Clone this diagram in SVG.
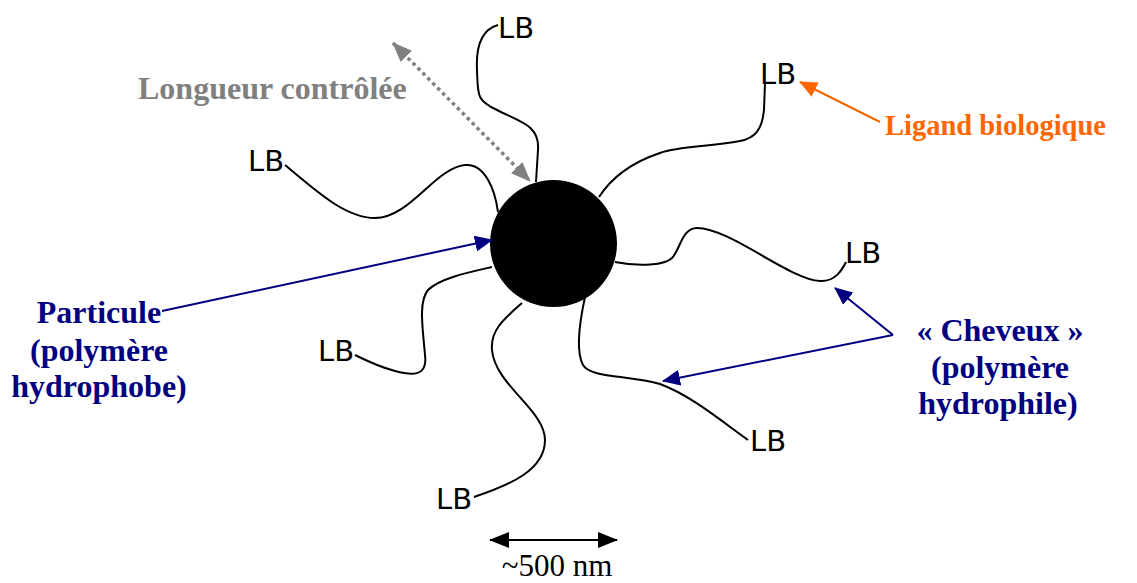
<svg xmlns="http://www.w3.org/2000/svg" width="1137" height="583" viewBox="0 0 1137 583">
<style>
.hair{fill:none;stroke:#000;stroke-width:2}
.lb{font-family:"Comic Sans MS","DejaVu Sans",sans-serif;font-size:29px;fill:#000}
.lbl{font-family:"Liberation Serif","Times New Roman",serif;font-weight:bold;font-size:32px}
.navy{fill:#000080}
.navyl{stroke:#000080;stroke-width:2;fill:none}
</style>
<defs>
<marker id="aNavyL" markerWidth="18" markerHeight="16" refX="17" refY="8" orient="auto" markerUnits="userSpaceOnUse"><path d="M0,0L18,8L0,16z" fill="#000080"/></marker>
<marker id="aOrange" markerWidth="18" markerHeight="16" refX="17" refY="8" orient="auto" markerUnits="userSpaceOnUse"><path d="M0,0L18,8L0,16z" fill="#FF6600"/></marker>
<marker id="aGray" markerWidth="20" markerHeight="16" refX="19" refY="8" orient="auto-start-reverse" markerUnits="userSpaceOnUse"><path d="M0,0L20,8L0,16z" fill="#808080"/></marker>
<marker id="aBlack" markerWidth="20" markerHeight="16" refX="19" refY="8" orient="auto-start-reverse" markerUnits="userSpaceOnUse"><path d="M0,0L20,8L0,16z" fill="#000"/></marker>
</defs>

<g id="hairs">
<path class="hair" d="M498,25 C480,30 476,50 477,70 C478,95 476,100 497,110 C520,122 540,125 538,150 L536,182"/>
<path class="hair" d="M765,83 L764,110 C762,130 755,138 740,141 C710,147 680,146 660,153 C630,163 610,180 599,197"/>
<path class="hair" d="M615,262 C640,267 665,265 672,258 C680,250 682,228 697,228 C730,228 790,280 820,281 C835,282 842,270 846,262"/>
<path class="hair" d="M585,297 C580,320 575,350 583,365 C590,378 630,375 660,384 C690,395 720,420 748,440"/>
<path class="hair" d="M522,303 C505,318 490,330 492,350 C495,385 545,410 545,440 C545,470 510,485 474,497"/>
<path class="hair" d="M492,267 C470,272 440,278 428,290 C418,302 423,330 425,355 C428,378 410,375 395,371 C380,367 365,360 355,355"/>
<path class="hair" d="M285,165 C315,190 345,218 375,218 C410,218 435,168 465,165 C485,163 495,190 498,212"/>
</g>

<g id="particle">
<circle cx="553.5" cy="243.5" r="63.5" fill="#000"/>
</g>

<g id="ligands">
<text class="lb" x="498" y="38">LB</text>
<text class="lb" x="760" y="84">LB</text>
<text class="lb" x="845" y="263">LB</text>
<text class="lb" x="750" y="451">LB</text>
<text class="lb" x="436" y="509">LB</text>
<text class="lb" x="318" y="361">LB</text>
<text class="lb" x="248" y="171">LB</text>
</g>

<g id="connectors">
<line x1="393" y1="43" x2="530" y2="181" stroke="#808080" stroke-width="3.5" stroke-dasharray="3.5,3.5" marker-start="url(#aGray)" marker-end="url(#aGray)"/>
<line x1="880" y1="122" x2="800" y2="82" stroke="#FF6600" stroke-width="2" marker-end="url(#aOrange)"/>
<line class="navyl" x1="162" y1="311" x2="492" y2="240" marker-end="url(#aNavyL)"/>
<line class="navyl" x1="893" y1="335" x2="835" y2="288" marker-end="url(#aNavyL)"/>
<line class="navyl" x1="893" y1="335" x2="663" y2="381" marker-end="url(#aNavyL)"/>
<line x1="490" y1="540" x2="617" y2="540" stroke="#000" stroke-width="2" marker-start="url(#aBlack)" marker-end="url(#aBlack)"/>
</g>

<g id="label-longueur">
<text class="lbl" x="138" y="99" fill="#808080">Longueur contrôlée</text>
</g>
<g id="label-ligand">
<text class="lbl" x="885" y="135" fill="#FF6600" style="font-size:28.5px">Ligand biologique</text>
</g>
<g id="label-particule">
<text class="lbl navy" text-anchor="middle" x="99" y="323">Particule</text>
<text class="lbl navy" text-anchor="middle" x="99" y="361">(polymère</text>
<text class="lbl navy" text-anchor="middle" x="99" y="397">hydrophobe)</text>
</g>
<g id="label-cheveux">
<text class="lbl navy" text-anchor="middle" x="1000" y="341">« Cheveux »</text>
<text class="lbl navy" text-anchor="middle" x="1000" y="378">(polymère</text>
<text class="lbl navy" text-anchor="middle" x="998" y="414">hydrophile)</text>
</g>
<g id="label-scale">
<text x="557" y="576" text-anchor="middle" font-family="Liberation Serif,serif" font-size="31">~500 nm</text>
</g>
</svg>
